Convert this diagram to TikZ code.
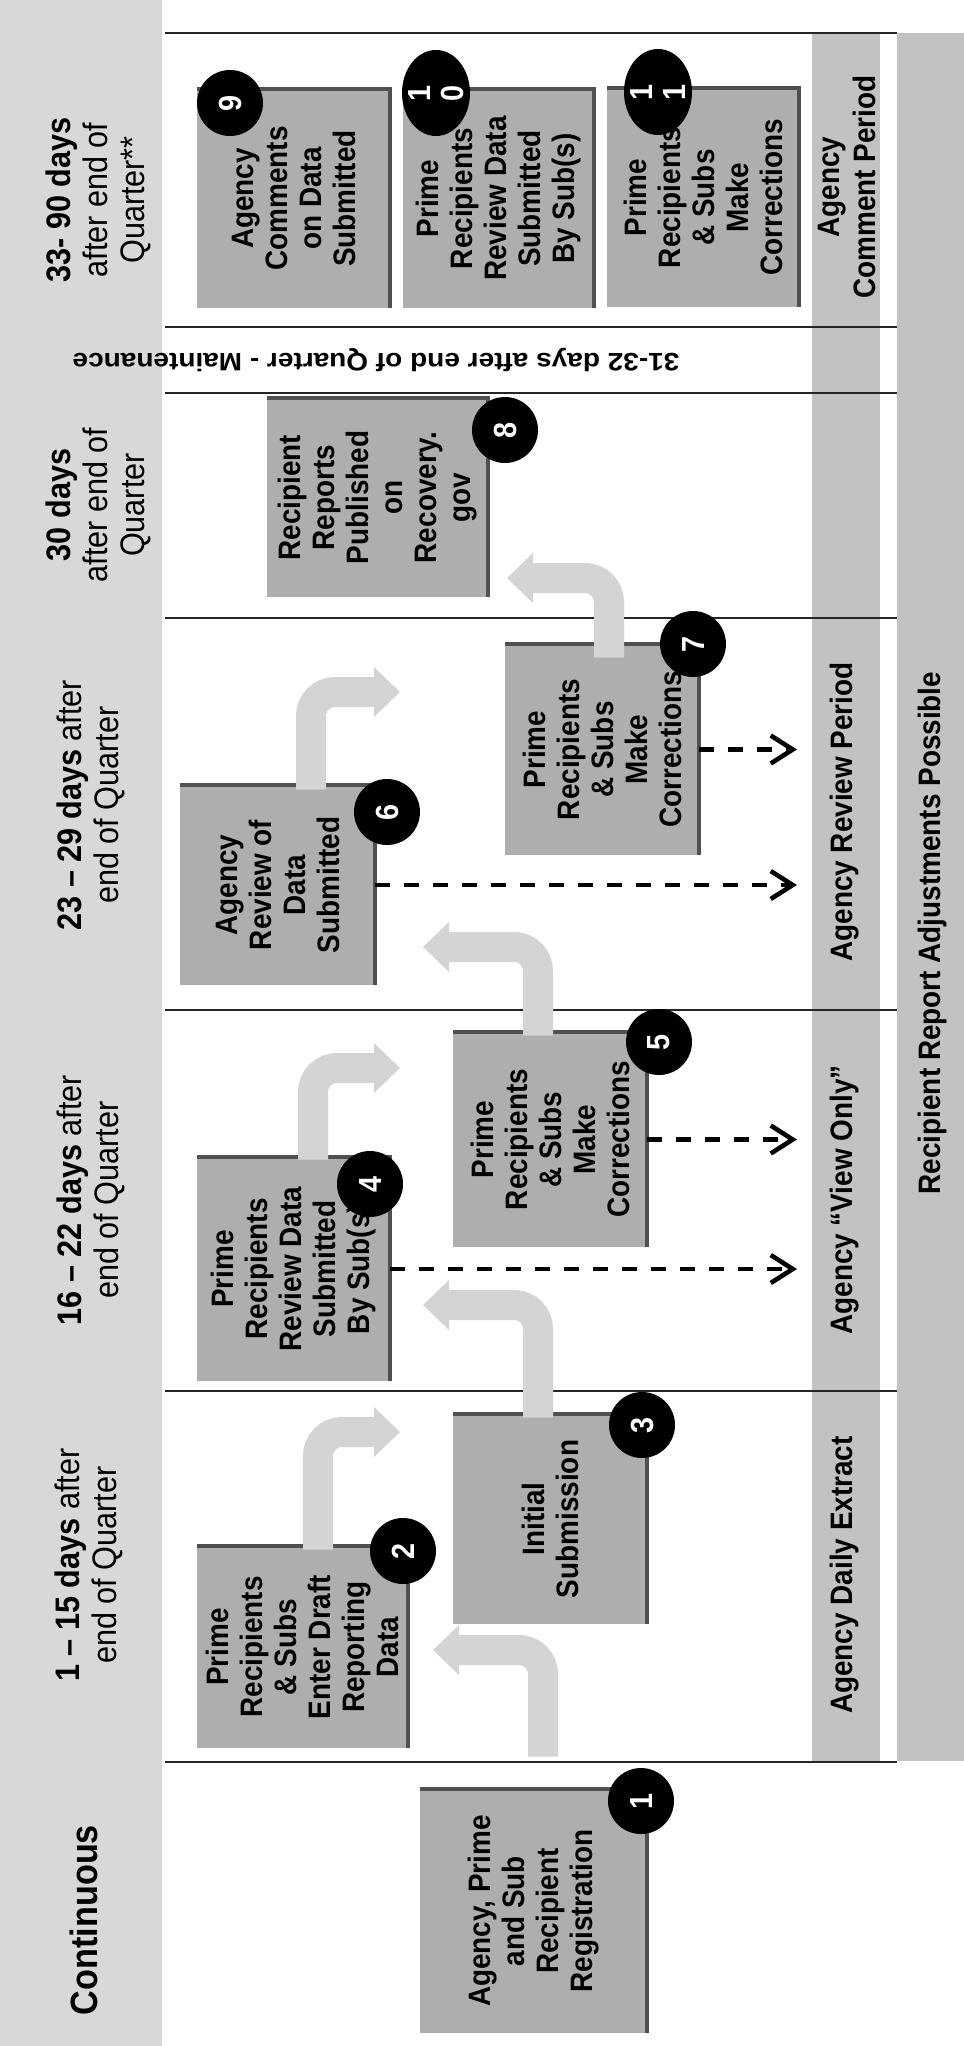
\documentclass[tikz,border=0pt]{standalone}
\usepackage{fontspec}
\usepackage{graphicx}
\setmainfont{Liberation Sans}
\newfontfamily\cf[FakeStretch=0.9]{Liberation Sans}
\usetikzlibrary{arrows.meta,shapes.geometric,calc}
\definecolor{stripc}{HTML}{D8D8D8}
\definecolor{bandc}{HTML}{C2C2C2}
\definecolor{boxc}{HTML}{AEAEAE}
\definecolor{arrc}{HTML}{D4D4D4}
\definecolor{shadc}{HTML}{505050}
\newcommand\flowbox[6]{%
  \node[procbox, minimum width={0.5pt*(#5-#3)}, minimum height={0.5pt*(#4-#2)}] (#1) at ({(#2+#4)/2},{(#3+#5)/2}) {#6};
  \draw[shad] (#1.north east) -- (#1.south east) -- (#1.south west);}
\newcommand\bentarr[3]{%
  \draw[bent] (#1) |- ($(#2)+({-25*#3},0)$);
  \fill[arrc] (#2) -- ($(#2)+({-26*#3},-25)$) -- ($(#2)+({-26*#3},25)$) -- cycle;}
\begin{document}
\begin{tikzpicture}[x=0.5pt,y=-0.5pt,
  procbox/.style={rectangle, fill=boxc, rotate=90, align=center, inner sep=0pt,
    font=\cf\bfseries\fontsize{15.5}{17}\selectfont},
  shad/.style={draw=shadc, line width=2pt},
  numc/.style={circle, fill=black, text=white, inner sep=0pt, minimum size=33pt, rotate=90,
    font=\cf\bfseries\fontsize{16}{16}\selectfont},
  nume/.style={ellipse, fill=black, inner sep=0pt, minimum width=43pt, minimum height=34pt, rotate=90},
  numt/.style={text=white, inner sep=0pt, rotate=90, align=center,
    font=\cf\bfseries\fontsize{16}{16.5}\selectfont},
  hdr/.style={rotate=90, align=center, inner sep=0pt, font=\cf\fontsize{17}{18.5}\selectfont},
  bandtxt/.style={rotate=90, align=center, inner sep=0pt, font=\cf\bfseries\fontsize{15.5}{18}\selectfont},
  bent/.style={draw=arrc, line width=15pt, rounded corners=12pt},
  dasharr/.style={line width=2.3pt, dash pattern=on 7.5pt off 7pt, -{Straight Barb[length=11pt,width=14pt]}},
  colline/.style={line width=1pt, black!85}]
\useasboundingbox (0,0) rectangle (964,2046);
% backgrounds
\fill[stripc] (0,0) rectangle (162,2046);
\fill[bandc] (812,33) rectangle (880,1761);
\fill[bandc] (897,33) rectangle (964,1761);
% column separators
\foreach \yy in {33,327,393,618,1010,1391,1762}
  \draw[colline] (165,\yy) -- (897,\yy);
% headers
\node[hdr] (h0) at (84,1920) {\fontsize{19}{20}\selectfont\bfseries Continuous};
\node[hdr] (h1) at (89,1565) {\textbf{1 – 15 days} after\\end of Quarter};
\node[hdr] (h2) at (91,1200) {\textbf{16 – 22 days} after\\end of Quarter};
\node[hdr] (h3) at (91,805) {\textbf{23 – 29 days} after\\end of Quarter};
\node[hdr] (h4) at (98,505) {\textbf{30 days}\\after end of\\Quarter};
\node[hdr] (h5) at (98,200) {\textbf{33- 90 days}\\after end of\\Quarter**};
\node[rotate=180, inner sep=0pt, font=\bfseries\fontsize{14}{14}\selectfont] (mt) at (376,360)
  {\scalebox{1}[0.9]{31-32 days after end of Quarter - Maintenance}};
% band texts
\node[bandtxt] (ag1) at (845,1575) {Agency Daily Extract};
\node[bandtxt] (ag2) at (845,1200) {Agency “View Only”};
\node[bandtxt] (ag3) at (845,812) {Agency Review Period};
\node[bandtxt] (ag4) at (847,187) {Agency\\Comment Period};
\node[bandtxt] (adj) at (932,933) {Recipient Report Adjustments Possible};
% boxes
\flowbox{b1}{420}{1789}{647}{2033}{Agency, Prime\\and Sub\\Recipient\\Registration}
\flowbox{b2}{197}{1546}{408}{1748}{Prime\\Recipients\\\& Subs\\Enter Draft\\Reporting\\Data}
\flowbox{b3}{453}{1414}{647}{1624}{Initial\\Submission}
\flowbox{b4}{197}{1157}{390}{1381}{Prime\\Recipients\\Review Data\\Submitted\\By Sub(s)}
\flowbox{b5}{453}{1032}{647}{1247}{Prime\\Recipients\\\& Subs\\Make\\Corrections}
\flowbox{b6}{180}{785}{375}{985}{Agency\\Review of\\Data\\Submitted}
\flowbox{b7}{505}{644}{699}{855}{Prime\\Recipients\\\& Subs\\Make\\Corrections}
\flowbox{b8}{267}{398}{488}{597}{Recipient\\Reports\\Published\\on\\Recovery.\\gov}
\flowbox{b9}{197}{89}{390}{308}{Agency\\Comments\\on Data\\Submitted}
\flowbox{b10}{403}{89}{594}{308}{Prime\\Recipients\\Review Data\\Submitted\\By Sub(s)}
\flowbox{b11}{607}{88}{799}{307}{Prime\\Recipients\\\& Subs\\Make\\Corrections}
% arrow tips
\coordinate (t12) at (433,1650);
\coordinate (t23) at (400,1432);
\coordinate (t34) at (423,1305);
\coordinate (t45) at (400,1068);
\coordinate (t56) at (423,947);
\coordinate (t67) at (400,692);
\coordinate (t78) at (507,578);
% bent arrows
\bentarr{$(b1.east)+(9.5,-32)$}{t12}{-1}
\bentarr{$(b2.east)+(15.5,4)$}{t23}{1}
\bentarr{$(b3.east)+(-12,4)$}{t34}{-1}
\bentarr{$(b4.east)+(19.5,3)$}{t45}{1}
\bentarr{$(b5.east)+(-12,4)$}{t56}{-1}
\bentarr{$(b6.east)+(33.5,5)$}{t67}{1}
\bentarr{$(b7.east)+(7,14)$}{t78}{-1}
% numbered circles
\node[numc] (c1) at (641,1801) {1};
\node[numc] (c2) at (403,1551) {2};
\node[numc] (c3) at (642,1425) {3};
\node[numc] (c4) at (370,1184) {4};
\node[numc] (c5) at (659,1042) {5};
\node[numc] (c6) at (387,812) {6};
\node[numc] (c7) at (693,644) {7};
\node[numc] (c8) at (505,430) {8};
\node[numc] (c9) at (230,103) {9};
\node[nume] (c10) at (436,93) {};
\node[numt] at (c10) {1\\0};
\node[nume] (c11) at (658,92) {};
\node[numt] at (c11) {1\\1};
% dashed arrows to agency band
\coordinate (agx) at (797,0);
\draw[dasharr] (b4.south) -- (b4.south -| agx);
\draw[dasharr] (b5.south) -- (b5.south -| agx);
\draw[dasharr] (b6.south) -- (b6.south -| agx);
\draw[dasharr] (b7.south) -- (b7.south -| agx);
\end{tikzpicture}
\end{document}
